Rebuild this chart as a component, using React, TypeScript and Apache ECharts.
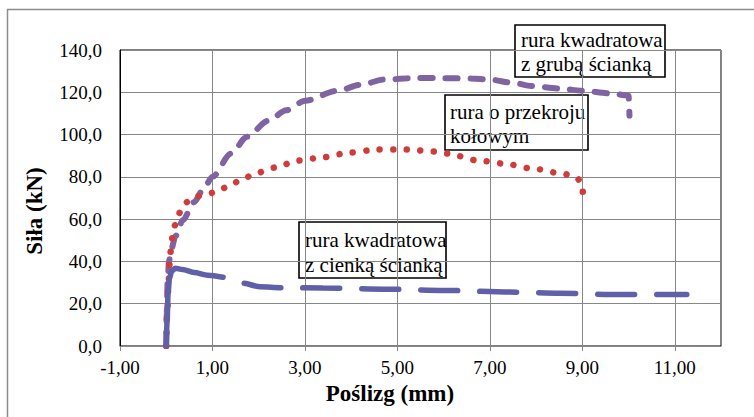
import React, { useEffect, useRef } from "react";
import * as echarts from "echarts";

// Axis tick settings
const xMin = -1;
const xMax = 12;
const xStep = 2;
const yMin = 0;
const yMax = 140;
const yStep = 20;

const seriesNames = [
  "rura kwadratowa z grubą ścianką",
  "rura o przekroju kołowym",
  "rura kwadratowa z cienką ścianką",
];

// rura kwadratowa z grubą ścianką
const grubaX = [0, 0.01, 0.03, 0.06, 0.1, 0.2, 0.36, 0.6, 0.8, 1.0, 1.4, 1.75, 2.2, 2.6, 3.0, 3.7, 4.2, 4.7, 5.4, 6.0, 6.6, 7.0, 7.5, 7.9, 8.5, 9.0, 9.6, 10.0, 10.02];
const grubaY = [0, 15, 30, 40, 45, 52, 59.5, 68, 74, 80, 91, 99, 106.5, 111.5, 116, 120.7, 123.5, 126, 126.7, 126.7, 126.5, 126, 124.5, 123, 121.8, 120.7, 119.5, 118.4, 109];

// rura o przekroju kołowym
const kolowyX = [0, 0.02, 0.05, 0.08, 0.12, 0.16, 0.25, 0.4, 0.56, 0.8, 1.05, 1.3, 1.66, 1.92, 2.35, 2.85, 3.4, 3.97, 4.56, 5.2, 5.8, 6.1, 6.7, 7.3, 7.9, 8.56, 8.88, 9.01, 9.01];
const kolowyY = [0, 15, 30, 42, 50, 55.6, 62, 67.5, 70, 71.5, 72.6, 75, 79, 81.6, 84.4, 87.7, 89.3, 91.5, 92.9, 92.9, 92, 91, 87.9, 86.3, 84, 81.6, 79.7, 75.5, 68.5];

// rura kwadratowa z cienką ścianką
const cienkaX = [0, 0.02, 0.04, 0.07, 0.12, 0.2, 0.35, 0.6, 0.9, 1.23, 1.45, 1.66, 2.03, 2.5, 3.39, 4.69, 6.0, 7.43, 8.51, 9.75, 11.26];
const cienkaY = [0, 12, 25, 32, 35.5, 36.8, 36.2, 34.8, 33.5, 32.5, 31, 29.7, 28, 27.6, 27.4, 26.9, 26.3, 25.5, 25, 24.3, 24.3];
const cienkaSolidEnd = 9; // index where the solid start ends and dashes begin

// Annotation labels
const labelGruba = ["rura kwadratowa", "z grubą ścianką"];
const labelKolowy = ["rura o przekroju", "kołowym"];
const labelCienka = ["rura kwadratowa", "z cienką ścianką"];
const xTitle = "Poślizg (mm)";
const yTitle = "Siła (kN)";

const zip = (xs: number[], ys: number[]) => xs.map((x, i) => [x, ys[i]]);

const SERIF = "'Liberation Serif', 'Times New Roman', serif";

function box(x: number, y: number, w: number, h: number, lines: string[], tx: number, ty: number[]) {
  return {
    type: "group",
    children: [
      {
        type: "rect",
        shape: { x, y, width: w, height: h },
        style: { fill: "#fff", stroke: "#000", lineWidth: 1.6 },
      },
      ...lines.map((t, i) => ({
        type: "text",
        x: tx,
        y: ty[i],
        style: {
          text: t,
          fontSize: 21,
          fontFamily: SERIF,
          fill: "#000",
          align: "left",
          verticalAlign: "middle",
        },
      })),
    ],
  };
}

export default function App() {
  const ref = useRef<HTMLDivElement>(null);
  useEffect(() => {
    if (!ref.current) return;
    const chart = echarts.init(ref.current, undefined, { renderer: "svg" });
    const gruba = zip(grubaX, grubaY);
    const kolowy = zip(kolowyX, kolowyY);
    const cienka = zip(cienkaX, cienkaY);
    chart.setOption({
      animation: false,
      backgroundColor: "#fff",
      textStyle: { fontFamily: SERIF },
      grid: {
        left: 120,
        right: 33,
        top: 50,
        bottom: 71,
        show: true,
        borderColor: "#000",
        borderWidth: 1,
        backgroundColor: "transparent",
        outerBoundsMode: "none",
      },
      xAxis: {
        type: "value",
        min: xMin,
        max: xMax,
        interval: xStep,
        axisLine: { show: true, onZero: false, lineStyle: { color: "#868686", width: 1 } },
        axisTick: { show: true, length: 5, lineStyle: { color: "#868686" } },
        splitLine: { show: true, lineStyle: { color: "#878787", width: 1 } },
        axisLabel: {
          showMaxLabel: false,
          margin: 12,
          color: "#000",
          fontSize: 19,
          fontFamily: SERIF,
          formatter: (v: number) => (v >= xMax ? "" : v.toFixed(2).replace(".", ",")),
        },
      },
      yAxis: {
        type: "value",
        min: yMin,
        max: yMax,
        interval: yStep,
        axisLine: { show: true, onZero: false, lineStyle: { color: "#000", width: 1 } },
        axisTick: { show: false },
        splitLine: { show: true, lineStyle: { color: "#878787", width: 1 } },
        axisLabel: {
          margin: 18,
          color: "#000",
          fontSize: 19,
          fontFamily: SERIF,
          formatter: (v: number) => v.toFixed(1).replace(".", ","),
        },
      },
      series: [
        {
          name: seriesNames[0],
          type: "line",
          data: gruba,
          showSymbol: false,
          smooth: 0.3,
          smoothMonotone: "x",
          lineStyle: { color: "#8064A2", width: 6, type: [12, 13], cap: "round" },
        },
        {
          name: seriesNames[1],
          type: "line",
          data: kolowy,
          showSymbol: false,
          smooth: 0.3,
          smoothMonotone: "x",
          lineStyle: { color: "#CF3C3C", width: 6.5, type: [0.01, 13.5], cap: "round" },
        },
        {
          name: seriesNames[2],
          type: "line",
          data: cienka.slice(0, cienkaSolidEnd + 1),
          showSymbol: false,
          smooth: 0.3,
          smoothMonotone: "x",
          lineStyle: { color: "#6060A8", width: 5.5, type: "solid", cap: "round" },
        },
        {
          name: seriesNames[2],
          type: "line",
          data: cienka.slice(cienkaSolidEnd),
          showSymbol: false,
          smooth: 0.3,
          smoothMonotone: "x",
          lineStyle: { color: "#6060A8", width: 5.5, type: [37, 22], dashOffset: 37, cap: "round" },
        },
      ],
      graphic: [
        {
          type: "rect",
          silent: true,
          shape: { x: 7.5, y: 9.5, width: 800, height: 500 },
          style: { fill: "none", stroke: "#8c8c8c", lineWidth: 1.5 },
        },
        box(515, 25, 150, 52, labelGruba, 521, [40, 64]),
        box(445, 95, 143, 55, labelKolowy, 450, [112, 136]),
        box(299, 222, 147, 56, labelCienka, 305, [240, 265]),
        {
          type: "text",
          x: 390,
          y: 393,
          style: {
            text: xTitle,
            fontSize: 23,
            fontWeight: "bold",
            fontFamily: SERIF,
            fill: "#000",
            align: "center",
            verticalAlign: "middle",
          },
        },
        {
          type: "text",
          x: 34,
          y: 211,
          rotation: Math.PI / 2,
          style: {
            text: yTitle,
            fontSize: 23,
            fontWeight: "bold",
            fontFamily: SERIF,
            fill: "#000",
            align: "center",
            verticalAlign: "middle",
          },
        },
      ],
    });
    return () => chart.dispose();
  }, []);
  return (
    <div
      ref={ref}
      style={{ position: "fixed", left: 0, top: 0, width: 754, height: 417, background: "#fff" }}
    />
  );
}
